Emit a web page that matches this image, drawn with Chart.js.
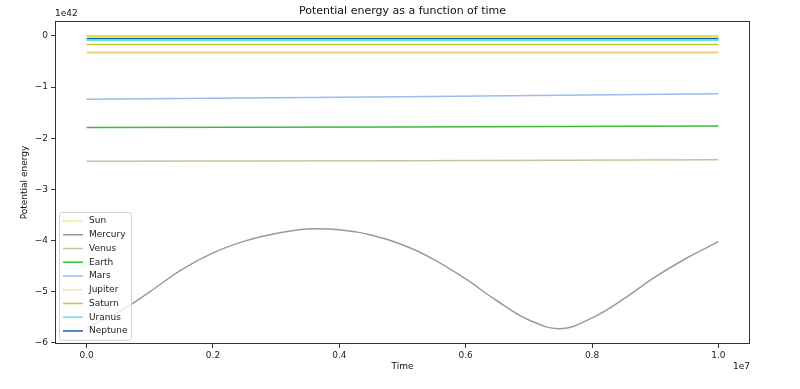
<!DOCTYPE html>
<html lang="en">
<head>
    <meta charset="UTF-8">
    <script src="https://cdn.jsdelivr.net/npm/chart.js@4.4.1/dist/chart.umd.min.js"></script>
    <title>Potential energy</title>
    <style>
        body { margin: 0; background: #fff; }
        #wrap { width: 800px; height: 389px; }
    </style>
</head>
<body>
    <div id="wrap"><canvas id="energyGraph"></canvas></div>

    <script>
        // time in units of 1e7 s, energy in units of 1e42
        const mercuryTime = [0, 0.05, 0.1, 0.15, 0.2, 0.25, 0.3, 0.35, 0.4, 0.45, 0.5,
            0.55, 0.6, 0.65, 0.7, 0.75, 0.8, 0.85, 0.9, 0.95, 1.0]
        const mercury = [-5.70, -5.40, -5.00, -4.57, -4.24, -4.01, -3.86, -3.775, -3.79, -3.89, -4.08,
            -4.37, -4.75, -5.18, -5.55, -5.72, -5.51, -5.14, -4.71, -4.34, -4.02]

        const time = [0, 0.5, 1.0]
        const sun = [-0.005, -0.005, -0.005]
        const venus = [-2.45, -2.44, -2.42]
        const earth = [-1.79, -1.78, -1.76]
        const mars = [-1.24, -1.19, -1.13]
        const jupiter = [-0.326, -0.326, -0.326]
        const saturn = [-0.17, -0.17, -0.17]
        const uranus = [-0.085, -0.085, -0.085]
        const neptune = [-0.053, -0.053, -0.053]

        const xTicks = [0, 0.2, 0.4, 0.6, 0.8, 1.0]
        const yTicks = [-6, -5, -4, -3, -2, -1, 0]

        const series = [
            { label: "Sun", t: time, v: sun, color: "#ece43c", dotted: true },
            { label: "Mercury", t: mercuryTime, v: mercury, color: "#9a9a9a" },
            { label: "Venus", t: time, v: venus, color: "#c6c3a3" },
            { label: "Earth", t: time, v: earth, color: "#3cba3c" },
            { label: "Mars", t: time, v: mars, color: "#9bbcee" },
            { label: "Jupiter", t: time, v: jupiter, color: "#f5d27a", dotted: true },
            { label: "Saturn", t: time, v: saturn, color: "#c9cc30" },
            { label: "Uranus", t: time, v: uranus, color: "#5ce6e6" },
            { label: "Neptune", t: time, v: neptune, color: "#1c5fc0" }
        ]

        const font = "DejaVu Sans"

        const textPlugin = {
            id: "texts",
            afterDatasetsDraw(chart) {
                const ctx = chart.ctx
                const area = chart.chartArea
                ctx.save()

                // frame
                ctx.strokeStyle = "#333"
                ctx.lineWidth = 1
                ctx.strokeRect(Math.round(area.left) + 0.5, Math.round(area.top) + 0.5,
                    Math.round(area.right - area.left) - 1, Math.round(area.bottom - area.top) - 1)

                // legend
                const x0 = 59, rowH = 13.75
                const top = 212
                const h = rowH * series.length + 4
                ctx.fillStyle = "rgba(255,255,255,0.8)"
                ctx.strokeStyle = "#d4d4d4"
                ctx.beginPath()
                ctx.roundRect(x0 + 0.5, top + 0.5, 72, h, 2)
                ctx.fill()
                ctx.stroke()
                ctx.font = "9px '" + font + "'"
                ctx.textBaseline = "middle"
                series.forEach(function (s, i) {
                    const y = top + 9 + i * rowH
                    ctx.strokeStyle = s.color
                    ctx.lineWidth = 1.5
                    ctx.setLineDash(s.dotted ? [1.5, 1] : [])
                    ctx.beginPath()
                    ctx.moveTo(x0 + 4, y)
                    ctx.lineTo(x0 + 24, y)
                    ctx.stroke()
                    ctx.setLineDash([])
                    ctx.fillStyle = "#222"
                    ctx.textAlign = "left"
                    ctx.fillText(s.label, x0 + 30, y)
                })

                // titles
                ctx.fillStyle = "#111"
                ctx.textAlign = "center"
                ctx.font = "11px '" + font + "'"
                ctx.fillText("Potential energy as a function of time", (area.left + area.right) / 2, 11)
                ctx.font = "9px '" + font + "'"
                ctx.fillText("Time", (area.left + area.right) / 2, 367)
                ctx.textAlign = "right"
                ctx.fillText("1e7", area.right, 367)
                ctx.textAlign = "left"
                ctx.fillText("1e42", area.left, 14)

                ctx.translate(25, (area.top + area.bottom) / 2)
                ctx.rotate(-Math.PI / 2)
                ctx.textAlign = "center"
                ctx.fillText("Potential energy", 0, 0)
                ctx.restore()
            }
        }

        new Chart("energyGraph", {
            type: "line",
            data: {
                datasets: series.map(function (s, i) {
                    return {
                        label: s.label,
                        data: s.t.map(function (t, j) { return { x: t, y: s.v[j] } }),
                        borderColor: s.color,
                        backgroundColor: s.color,
                        borderWidth: s.dotted ? 2 : 1.5,
                        pointRadius: 0,
                        tension: 0.4,
                        fill: false,
                        order: series.length - i
                    }
                })
            },
            options: {
                responsive: true,
                maintainAspectRatio: false,
                animation: false,
                events: [],
                layout: { padding: { top: 21, right: 50, left: 0, bottom: 0 } },
                plugins: {
                    legend: { display: false },
                    title: { display: false },
                    tooltip: { enabled: false }
                },
                scales: {
                    x: {
                        type: "linear",
                        min: -0.05,
                        max: 1.05,
                        afterBuildTicks: function (axis) { axis.ticks = xTicks.map(function (v) { return { value: v } }) },
                        afterFit: function (axis) { axis.height = 45 },
                        grid: { drawOnChartArea: false, tickLength: 4, color: "#333" },
                        border: { display: false },
                        ticks: {
                            font: { family: font, size: 9 },
                            color: "#222",
                            padding: 2,
                            maxRotation: 0,
                            callback: function (v) { return v.toFixed(1) }
                        }
                    },
                    y: {
                        type: "linear",
                        min: -6.02,
                        max: 0.29,
                        afterBuildTicks: function (axis) { axis.ticks = yTicks.map(function (v) { return { value: v } }) },
                        afterFit: function (axis) { axis.width = 55 },
                        grid: { drawOnChartArea: false, tickLength: 4, color: "#333" },
                        border: { display: false },
                        ticks: {
                            font: { family: font, size: 9 },
                            color: "#222",
                            padding: 3,
                            callback: function (v) { return v < 0 ? "\u2212" + Math.abs(v) : String(v) }
                        }
                    }
                }
            },
            plugins: [textPlugin]
        })
    </script>
</body>
</html>
